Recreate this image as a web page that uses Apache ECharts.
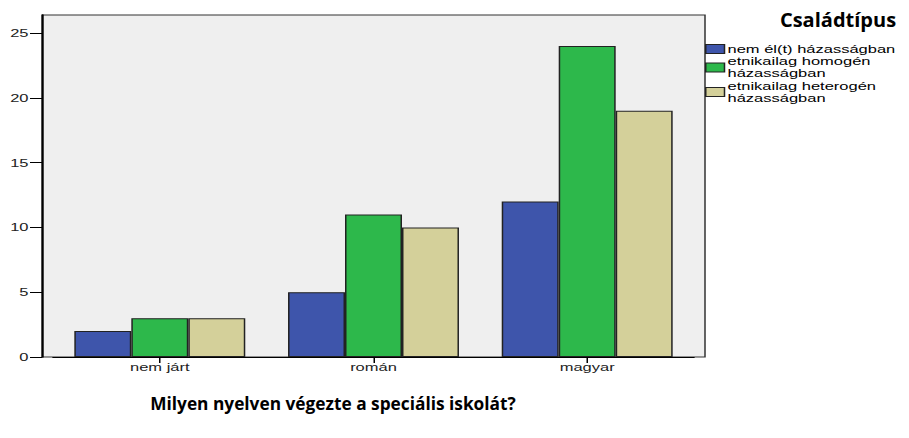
<!DOCTYPE html>
<html><head><meta charset="utf-8">
<script src="https://cdn.jsdelivr.net/npm/echarts@6/dist/echarts.min.js"></script>
<style>
html,body{margin:0;padding:0;background:#fff;overflow:hidden}
#wrap{position:relative;width:909px;height:438px}
#c{position:absolute;left:0;top:0;width:606px;height:438px;transform:scaleX(1.5);transform-origin:0 0}
#t{position:absolute;left:0;top:0;width:909px;height:438px;pointer-events:none}
</style>
</head><body><div id="wrap"><div id="c"></div><div id="t"></div></div>
<script>
const categories = ['nem járt', 'román', 'magyar'];
const seriesNames = ['nem él(t) házasságban', 'etnikailag homogén házasságban', 'etnikailag heterogén házasságban'];
const legendLabels = ['nem él(t) házasságban', 'etnikailag homogén\nházasságban', 'etnikailag heterogén\nházasságban'];
const valuesNemEl = [2, 5, 12];
const valuesHomogen = [3, 11, 24];
const valuesHeterogen = [3, 10, 19];
const yTicks = [0, 5, 10, 15, 20, 25];
const legendTitle = 'Családtípus';
const xTitle = 'Milyen nyelven végezte a speciális iskolát?';
const colors = ['#3e55ab', '#2db84b', '#d4d09a'];

// The reference picture is horizontally stretched 1.5x: the plot layer is drawn at 606px and scaled.
const chart = echarts.init(document.getElementById('c'), null, { renderer: 'svg' });
const allVals = [valuesNemEl, valuesHomogen, valuesHeterogen];
chart.setOption({
  animation: false,
  graphic: [{
    type: 'rect', z: -10, silent: true,
    shape: { x: 28, y: 15, width: 442, height: 342 },
    style: { fill: '#efefef', stroke: '#333', lineWidth: 1 }
  }],
  legend: {
    orient: 'vertical', left: 470, top: 43, padding: 0,
    itemWidth: 12.5, itemHeight: 9, itemGap: 0.5,
    icon: 'rect',
    data: seriesNames,
    formatter: name => legendLabels[seriesNames.indexOf(name)],
    itemStyle: { borderColor: '#222', borderWidth: 1 },
    textStyle: { fontFamily: 'Liberation Sans', fontSize: 11, color: '#000', lineHeight: 12, padding: [0, 0, 0, -3] }
  },
  grid: { left: 35.3, right: 143.3, top: 15, bottom: 81 },
  xAxis: {
    type: 'category', data: categories,
    axisLine: { show: true, lineStyle: { color: '#000', width: 1 } },
    axisTick: { show: true, alignWithLabel: true, length: 6, lineStyle: { color: '#000' } },
    axisLabel: { fontFamily: 'Liberation Sans', fontSize: 11, color: '#222', margin: 5 }
  },
  yAxis: {
    type: 'value', min: 0, max: 26.4, offset: 7.3,
    axisLine: { show: true, lineStyle: { color: '#000', width: 1.3 } },
    axisTick: { show: true, length: 8, customValues: yTicks, lineStyle: { color: '#000' } },
    axisLabel: { fontFamily: 'Liberation Sans', fontSize: 11, color: '#222', margin: 9, customValues: yTicks },
    splitLine: { show: false }
  },
  series: seriesNames.map((n, i) => ({
    name: n, type: 'bar', data: allVals[i],
    barGap: '0%', barCategoryGap: '20%',
    itemStyle: { color: colors[i], borderColor: '#222', borderWidth: 1 }
  }))
});

const titles = echarts.init(document.getElementById('t'), null, { renderer: 'svg' });
titles.setOption({
  animation: false,
  backgroundColor: 'transparent',
  title: [
    { text: legendTitle, left: 833, top: 4, textAlign: 'center',
      textStyle: { fontFamily: 'Open Sans', fontWeight: 'bold', fontSize: 20, color: '#000' } },
    { text: xTitle, left: 328, top: 390, textAlign: 'center',
      textStyle: { fontFamily: 'Open Sans', fontWeight: 'bold', fontSize: 17.3, color: '#000' } }
  ]
});
</script></body></html>
